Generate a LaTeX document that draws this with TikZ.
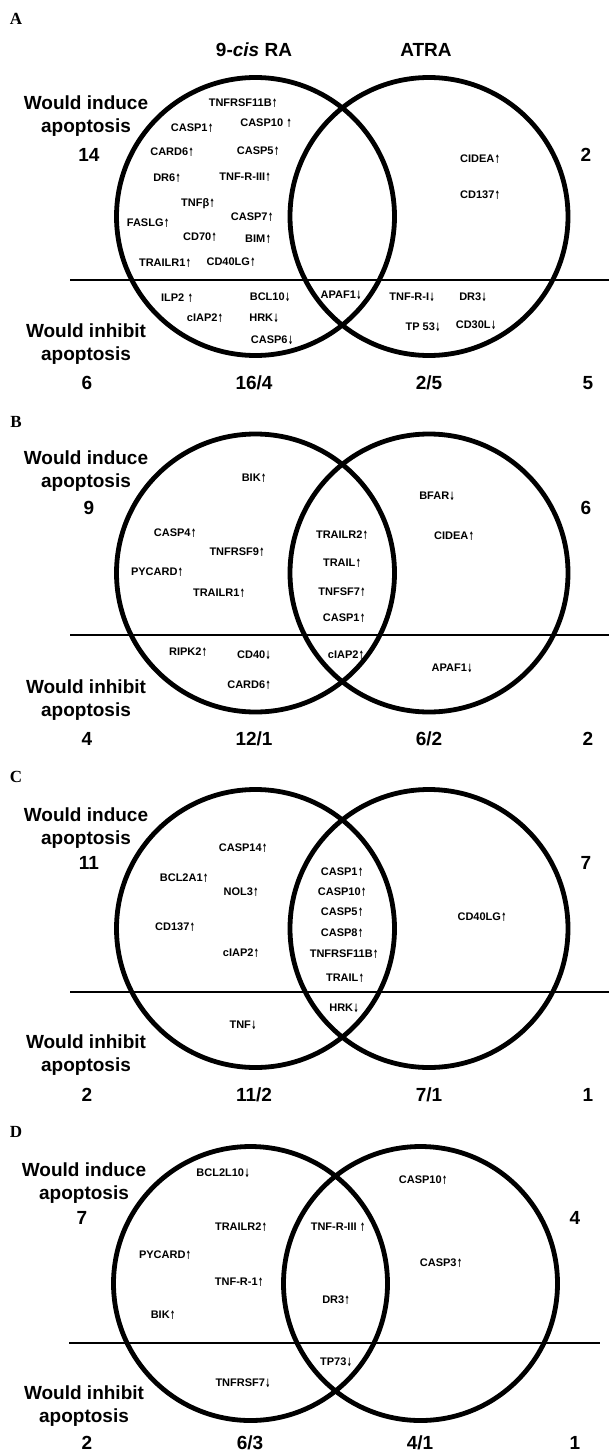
\documentclass[tikz,border=0pt]{standalone}
\usepackage{fontspec}
\usepackage{graphicx}
\setmainfont{Liberation Sans}
\newfontfamily\letterfont{Liberation Serif}
\newfontfamily\arrowfont{DejaVu Sans}
% narrow, full-height arrows after the gene names
\newcommand\up{\kern0.4pt\raisebox{-0.3pt}{\scalebox{0.55}[1.05]{\arrowfont\bfseries ↑}}}
\newcommand\dn{\kern0.4pt\raisebox{-0.6pt}{\scalebox{0.55}[1.05]{\arrowfont\bfseries ↓}}}
\tikzset{
  ring/.style={line width=4.8pt},
  divider/.style={line width=2.4pt},
  gene/.style={font=\fontsize{11}{13}\selectfont\bfseries, inner sep=0pt},
  big/.style={font=\fontsize{19}{23}\selectfont\bfseries, inner sep=0pt, align=center},
  panel/.style={font=\letterfont\fontsize{17}{18}\selectfont\bfseries, inner sep=0pt}
}
\begin{document}
\begin{tikzpicture}[x=1pt,y=-1pt]
\fill[white] (0,0) rectangle (609,1455);
\useasboundingbox (0,0) rectangle (609,1455);

% ---------------- Panel A ----------------
\node[panel] (pA) at (16,19) {A};
\node[big] (tL) at (254,50) {9-\textit{cis} RA};
\node[big] (tR) at (426,50) {ATRA};
\draw[ring] (255.5,216.5) circle[radius=139pt];
\draw[ring] (429,216.5) circle[radius=139pt];
\coordinate (aL) at (70,280);
\coordinate (aR) at (609,280);
\draw[divider] (aL) -- (aR);
\node[big] (aInd) at (86,116) {Would induce\\apoptosis};
\node[big] (aN1) at (89,155) {14};
\node[big] (aN2) at (586,155) {2};
\node[big] (aInh) at (86,344) {Would inhibit\\apoptosis};
\node[big] (aB1) at (87,383) {6};
\node[big] (aB2) at (254,383) {16/4};
\node[big] (aB3) at (429,383) {2/5};
\node[big] (aB4) at (588,383) {5};
\node[gene] (a01) at (243,103) {TNFRSF11B\up};
\node[gene] (a02) at (192,128) {CASP1\up};
\node[gene] (a03) at (266,123) {CASP10 \up};
\node[gene] (a04) at (172,152) {CARD6\up};
\node[gene] (a05) at (258,151) {CASP5\up};
\node[gene] (a06) at (480,159) {CIDEA\up};
\node[gene] (a07) at (167,178) {DR6\up};
\node[gene] (a08) at (245,177) {TNF-R-III\up};
\node[gene] (a09) at (480,195) {CD137\up};
\node[gene] (a10) at (198,204) {TNFβ\up};
\node[gene] (a11) at (148,223) {FASLG\up};
\node[gene] (a12) at (252,217) {CASP7\up};
\node[gene] (a13) at (200,237) {CD70\up};
\node[gene] (a14) at (258,239) {BIM\up};
\node[gene] (a15) at (165,263) {TRAILR1\up};
\node[gene] (a16) at (231,262) {CD40LG\up};
\node[gene] (a17) at (177,298) {ILP2 \up};
\node[gene] (a18) at (270,297) {BCL10\dn};
\node[gene] (a19) at (341,295) {APAF1\dn};
\node[gene] (a20) at (412,297) {TNF-R-I\dn};
\node[gene] (a21) at (473,297) {DR3\dn};
\node[gene] (a22) at (205,318) {cIAP2\up};
\node[gene] (a23) at (264,318) {HRK\dn};
\node[gene] (a24) at (423,327) {TP 53\dn};
\node[gene] (a25) at (476,325) {CD30L\dn};
\node[gene] (a26) at (272,340) {CASP6\dn};

% ---------------- Panel B ----------------
\node[panel] (pB) at (16,422) {B};
\draw[ring] (255.5,573) circle[radius=139pt];
\draw[ring] (429,573) circle[radius=139pt];
\coordinate (bL) at (70,635);
\coordinate (bR) at (609,635);
\draw[divider] (bL) -- (bR);
\node[big] (bInd) at (86,471) {Would induce\\apoptosis};
\node[big] (bN1) at (89,508) {9};
\node[big] (bN2) at (586,508) {6};
\node[big] (bInh) at (86,700) {Would inhibit\\apoptosis};
\node[big] (bB1) at (87,739) {4};
\node[big] (bB2) at (254,739) {12/1};
\node[big] (bB3) at (429,739) {6/2};
\node[big] (bB4) at (588,739) {2};
\node[gene] (b01) at (254,478) {BIK\up};
\node[gene] (b02) at (437,496) {BFAR\dn};
\node[gene] (b03) at (175,533) {CASP4\up};
\node[gene] (b04) at (342,535) {TRAILR2\up};
\node[gene] (b05) at (454,536) {CIDEA\up};
\node[gene] (b06) at (237,552) {TNFRSF9\up};
\node[gene] (b07) at (342,563) {TRAIL\up};
\node[gene] (b08) at (157,572) {PYCARD\up};
\node[gene] (b09) at (219,593) {TRAILR1\up};
\node[gene] (b10) at (342,592) {TNFSF7\up};
\node[gene] (b11) at (344,618) {CASP1\up};
\node[gene] (b12) at (188,652) {RIPK2\up};
\node[gene] (b13) at (254,655) {CD40\dn};
\node[gene] (b14) at (346,655) {cIAP2\up};
\node[gene] (b15) at (452,668) {APAF1\dn};
\node[gene] (b16) at (249,685) {CARD6\up};

% ---------------- Panel C ----------------
\node[panel] (pC) at (16,777) {C};
\draw[ring] (255.5,928.5) circle[radius=139pt];
\draw[ring] (429,928.5) circle[radius=139pt];
\coordinate (cL) at (70,992);
\coordinate (cR) at (609,992);
\draw[divider] (cL) -- (cR);
\node[big] (cInd) at (86,828) {Would induce\\apoptosis};
\node[big] (cN1) at (89,863) {11};
\node[big] (cN2) at (586,863) {7};
\node[big] (cInh) at (86,1055) {Would inhibit\\apoptosis};
\node[big] (cB1) at (87,1095) {2};
\node[big] (cB2) at (254,1095) {11/2};
\node[big] (cB3) at (429,1095) {7/1};
\node[big] (cB4) at (588,1095) {1};
\node[gene] (c01) at (243,848) {CASP14\up};
\node[gene] (c02) at (184,878) {BCL2A1\up};
\node[gene] (c03) at (342,872) {CASP1\up};
\node[gene] (c04) at (241,892) {NOL3\up};
\node[gene] (c05) at (342,892) {CASP10\up};
\node[gene] (c06) at (342,912) {CASP5\up};
\node[gene] (c07) at (482,917) {CD40LG\up};
\node[gene] (c08) at (175,927) {CD137\up};
\node[gene] (c09) at (342,933) {CASP8\up};
\node[gene] (c10) at (241,953) {cIAP2\up};
\node[gene] (c11) at (344,954) {TNFRSF11B\up};
\node[gene] (c12) at (345,978) {TRAIL\up};
\node[gene] (c13) at (344,1008) {HRK\dn};
\node[gene] (c14) at (243,1025) {TNF\dn};

% ---------------- Panel D ----------------
\node[panel] (pD) at (16,1132) {D};
\draw[ring] (250.5,1283.5) circle[radius=137pt];
\draw[ring] (420.5,1283.5) circle[radius=137pt];
\coordinate (dL) at (69,1343);
\coordinate (dR) at (600,1343);
\draw[divider] (dL) -- (dR);
\node[big] (dInd) at (84,1183) {Would induce\\apoptosis};
\node[big] (dN1) at (82,1218) {7};
\node[big] (dN2) at (575,1218) {4};
\node[big] (dInh) at (84,1406) {Would inhibit\\apoptosis};
\node[big] (dB1) at (87,1443) {2};
\node[big] (dB2) at (250,1443) {6/3};
\node[big] (dB3) at (420,1443) {4/1};
\node[big] (dB4) at (575,1443) {1};
\node[gene] (d01) at (223,1173) {BCL2L10\dn};
\node[gene] (d02) at (423,1180) {CASP10\up};
\node[gene] (d03) at (241,1227) {TRAILR2\up};
\node[gene] (d04) at (338,1227) {TNF-R-III \up};
\node[gene] (d05) at (165,1255) {PYCARD\up};
\node[gene] (d06) at (441,1263) {CASP3\up};
\node[gene] (d07) at (239,1282) {TNF-R-1\up};
\node[gene] (d08) at (336,1300) {DR3\up};
\node[gene] (d09) at (163,1315) {BIK\up};
\node[gene] (d10) at (336,1362) {TP73\dn};
\node[gene] (d11) at (243,1383) {TNFRSF7\dn};
\end{tikzpicture}
\end{document}
